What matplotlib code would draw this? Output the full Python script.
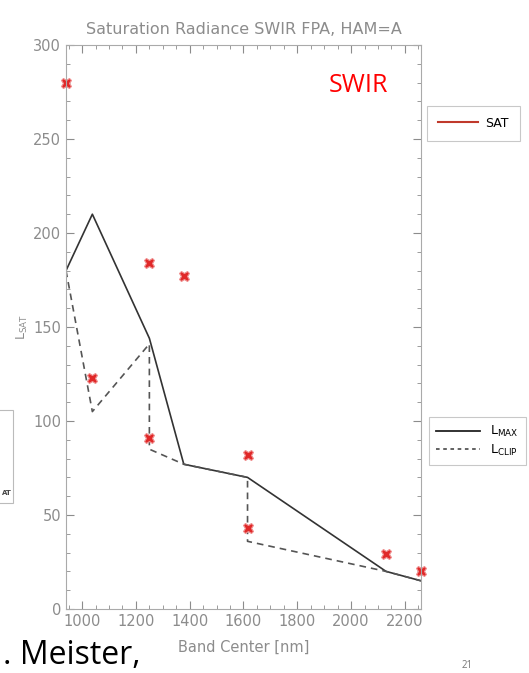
import matplotlib
matplotlib.use("Agg")
import matplotlib.pyplot as plt
from matplotlib.lines import Line2D
from matplotlib.patches import Rectangle
from matplotlib.ticker import MultipleLocator

# OCI SWIR band centers (nm) and radiances
bands = [940, 1038, 1250, 1378, 1615, 2130, 2260]
l_max = [180, 210, 144, 77, 70, 20, 15]

clip_x = [940, 1038, 1250, 1250, 1378, 1615, 1615, 2130, 2260]
l_clip = [180, 105, 141, 85, 77, 70, 36, 20, 15]

sat_x = [940, 1038, 1250, 1250, 1378, 1615, 1615, 2130, 2260]
l_sat = [280, 123, 184, 91, 177, 82, 43, 29, 20]

W, H = 529, 673
fig = plt.figure(figsize=(W / 100, H / 100), dpi=100)
ax = fig.add_axes([66 / W, 1 - 609 / H, (421 - 66) / W, (609 - 45) / H])

gray = "#8c8c8c"
tfont = ["Liberation Sans Narrow", "DejaVu Sans"]

ax.plot(bands, l_max, color="#333333", lw=1.2)
ax.plot(clip_x, l_clip, color="#555555", lw=1.2, ls=(0, (4, 3)))
ax.plot(sat_x, l_sat, ls="none", marker="X", ms=7.5, color="#e02828",
        markeredgecolor="#f09090", markeredgewidth=0.8, clip_on=False)

ax.set_xlim(940, 2260)
ax.set_ylim(0, 300)
ax.xaxis.set_major_locator(MultipleLocator(200))
ax.xaxis.set_minor_locator(MultipleLocator(50))
ax.yaxis.set_major_locator(MultipleLocator(50))
ax.yaxis.set_minor_locator(MultipleLocator(10))
ax.tick_params(which="both", direction="in", top=True, right=True,
               colors=gray, labelcolor=gray, labelsize=10.5)
ax.tick_params(which="major", length=6)
ax.tick_params(which="minor", length=3)
for lab in ax.get_xticklabels() + ax.get_yticklabels():
    lab.set_family(tfont)
for s in ax.spines.values():
    s.set_color("#aaaaaa")
    s.set_linewidth(0.8)

ax.set_title("Saturation Radiance SWIR FPA, HAM=A", color=gray, fontsize=11.5,
             family=tfont, pad=8)
ax.set_xlabel("Band Center [nm]", color=gray, fontsize=10.5, family=tfont,
              labelpad=8)
ax.set_ylabel(r"L$_{\mathregular{SAT}}$", color=gray, fontsize=9, family=tfont,
              labelpad=2)

ax.text(358 / W, 1 - 86 / H, "SWIR", transform=fig.transFigure, color="red",
        fontsize=18, family="Open Sans", ha="center", va="center")

leg1 = fig.legend([Line2D([], [], color="#c0392b", lw=1.5)], ["SAT"],
                  loc="upper left", bbox_to_anchor=(424 / W, 1 - 103 / H),
                  frameon=True, fancybox=False, edgecolor="#bbbbbb",
                  handlelength=3.2, handletextpad=0.6, borderpad=0.9,
                  borderaxespad=0.2, prop={"family": tfont, "size": 9})
leg2 = fig.legend([Line2D([], [], color="#222222", lw=1.3),
                   Line2D([], [], color="#555555", lw=1.3, ls=(0, (2, 2)))],
                  [r"L$_{\mathregular{MAX}}$", r"L$_{\mathregular{CLIP}}$"],
                  loc="upper left", bbox_to_anchor=(426 / W, 1 - 414 / H),
                  frameon=True, fancybox=False, edgecolor="#bbbbbb",
                  handlelength=3.5, borderpad=0.6, borderaxespad=0.2,
                  prop={"family": tfont, "size": 9}, labelspacing=0.3)
for lg in (leg1, leg2):
    lg.get_frame().set_linewidth(0.8)

# leftover pieces of the slide around the chart
fig.patches.append(Rectangle((-10 / W, 1 - 503 / H), 23 / W, 93 / H,
                             transform=fig.transFigure, fill=False,
                             edgecolor="#bbbbbb", lw=0.8))
fig.text(2 / W, 1 - 495 / H, "AT", fontsize=5, color="#444444",
         family=tfont, weight="bold")
fig.text(3 / W, 1 - 664 / H, ". Meister,", fontsize=23, family="Open Sans",
         color="black", va="baseline")
fig.text(462 / W, 1 - 668 / H, "21", fontsize=7, family="Open Sans",
         color="#777777", va="baseline")

fig.savefig("out.png", dpi=100, facecolor="white")
